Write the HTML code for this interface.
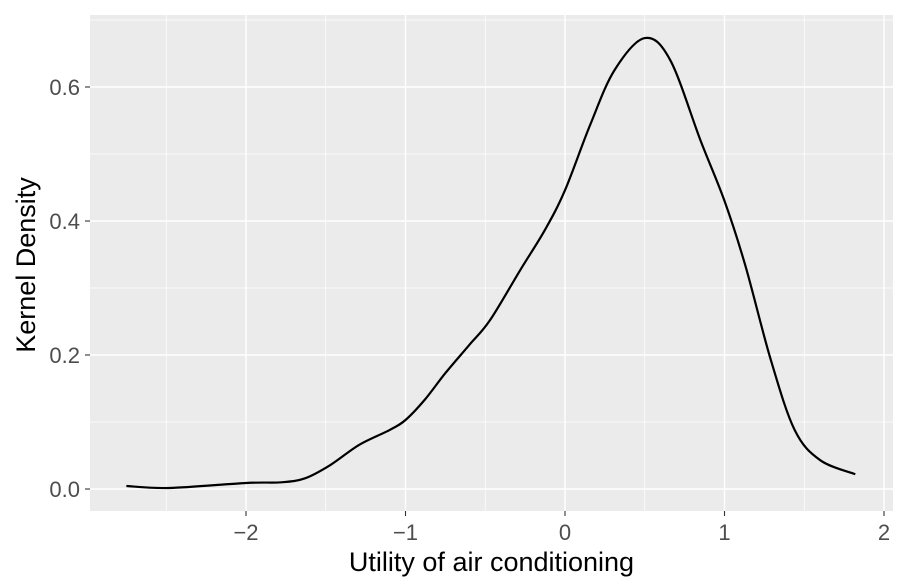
<!DOCTYPE html>
<html><head><meta charset="utf-8"><style>body{margin:0;background:#fff}svg{display:block}text{font-family:"Liberation Sans",Arial,sans-serif}</style></head>
<body>
<svg id="chart" width="910" height="587" xmlns="http://www.w3.org/2000/svg"></svg>
<script>
const xData=[-2.75,-2.48,-2.0,-1.78,-1.63,-1.47,-1.29,-1.10,-1.0,-0.88,-0.75,-0.60,-0.47,-0.28,-0.125,0,0.157,0.31,0.50,0.66,0.85,1.0,1.13,1.29,1.44,1.6,1.82];
const yData=[0.0045,0.0015,0.009,0.010,0.016,0.036,0.066,0.088,0.103,0.133,0.173,0.215,0.252,0.327,0.387,0.446,0.543,0.625,0.673,0.64,0.52,0.43,0.334,0.193,0.088,0.043,0.022];
const xTicks=[-2,-1,0,1,2];
const xTickLabels=["\u22122","\u22121","0","1","2"];
const yTicks=[0,0.2,0.4,0.6];
const yTickLabels=["0.0","0.2","0.4","0.6"];
const NS="http://www.w3.org/2000/svg",svg=document.getElementById('chart');
const L=90,R=893,T=15,B=511;
const sx=v=>565+v*159.5, sy=v=>489-v*670;
function mk(t,a,p){const e=document.createElementNS(NS,t);for(const k in a)e.setAttribute(k,a[k]);(p||svg).appendChild(e);return e;}
const bg=mk('rect',{x:L,y:T,width:R-L,height:B-T,fill:'#ebebeb'});


const g=mk('g',{});


for(let v=-2.5;v<=2;v+=1){const x=sx(v);if(x>L&&x<R)mk('line',{x1:x,x2:x,y1:T,y2:B,stroke:'#fff','stroke-width':0.7},g);}
for(let v=0.1;v<=0.7;v+=0.2){const y=sy(v);if(y>T&&y<B)mk('line',{x1:L,x2:R,y1:y,y2:y,stroke:'#fff','stroke-width':0.7},g);}
xTicks.forEach((v,i)=>{const x=sx(v);mk('line',{x1:x,x2:x,y1:T,y2:B,stroke:'#fff','stroke-width':1.4},g);
 mk('line',{x1:x,x2:x,y1:B,y2:B+5,stroke:'#333','stroke-width':1.1});
 const t=mk('text',{x:x,y:B+29,'text-anchor':'middle','font-size':22,fill:'#4d4d4d'});t.textContent=xTickLabels[i];
 
 });
yTicks.forEach((v,i)=>{const y=sy(v);mk('line',{x1:L,x2:R,y1:y,y2:y,stroke:'#fff','stroke-width':1.4},g);
 mk('line',{x1:L-5,x2:L,y1:y,y2:y,stroke:'#333','stroke-width':1.1});
 const t=mk('text',{x:L-10,y:y+8,'text-anchor':'end','font-size':22,fill:'#4d4d4d'});t.textContent=yTickLabels[i];
 
 });
const P=xData.map((v,i)=>[sx(v),sy(yData[i])]);
let d='M'+P[0][0]+','+P[0][1];
for(let i=0;i<P.length-1;i++){const p0=P[i-1]||P[i],p1=P[i],p2=P[i+1],p3=P[i+2]||P[i+1];
 d+=` C${p1[0]+(p2[0]-p0[0])/6},${p1[1]+(p2[1]-p0[1])/6} ${p2[0]-(p3[0]-p1[0])/6},${p2[1]-(p3[1]-p1[1])/6} ${p2[0]},${p2[1]}`;}
const c=mk('path',{d:d,fill:'none',stroke:'#000','stroke-width':2.2});


const xt=mk('text',{x:(L+R)/2,y:571,'text-anchor':'middle','font-size':27,fill:'#000'});xt.textContent='Utility of air conditioning';


const yt=mk('text',{x:0,y:0,transform:`translate(35,${(T+B)/2+2}) rotate(-90)`,'text-anchor':'middle','font-size':27,fill:'#000'});yt.textContent='Kernel Density';


</script>
</body></html>
